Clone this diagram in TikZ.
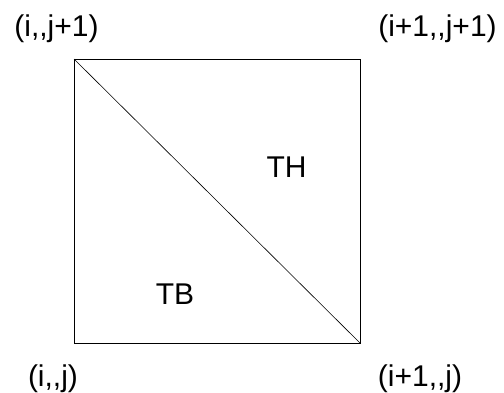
\documentclass[tikz,border=0pt]{standalone}
\usepackage{fontspec}
\setmainfont{Liberation Sans}
\usepackage{tikz}
\usetikzlibrary{positioning}

\begin{document}
\begin{tikzpicture}[
  x=1pt, y=-1pt,
  font=\fontsize{30}{36}\selectfont,
  lbl/.style={inner sep=0pt},
  edge/.style={line width=0.8pt, draw=black}
]
  \useasboundingbox (0,0) rectangle (504,392);
  % corners of the cell
  \coordinate (nw) at (74,59);
  \coordinate (ne) at (360,59);
  \coordinate (sw) at (74,343);
  \coordinate (se) at (360,343);
  \draw[edge] (nw) -- (ne) -- (se) -- (sw) -- cycle;
  \draw[edge, line width=0.6pt] (nw) -- (se);

  \node[lbl] (lnw) at (56.5,29) {(i,{},j+1)};
  \node[lbl] (lne) at (437.5,29) {(i+1,{},j+1)};
  \node[lbl] (lsw) at (53,378.5) {(i,{},j)};
  \node[lbl] (lse) at (420,378.5) {(i+1,{},j)};

  \node[lbl] (th) at (286.5,167.5) {TH};
  \node[lbl] (tb) at (175,294.5) {TB};
\end{tikzpicture}
\end{document}
